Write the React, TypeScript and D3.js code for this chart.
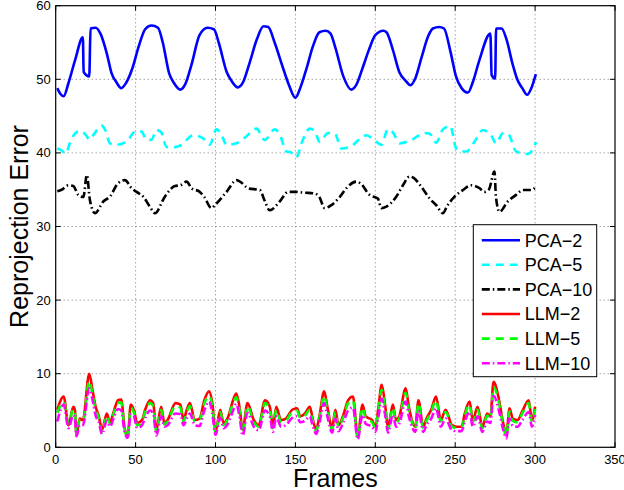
import * as d3 from 'd3';

const W = 624;
const H = 490;
const M = { left: 55.7, right: 9, top: 5.7, bottom: 42.7 };

const xTicks = [0, 50, 100, 150, 200, 250, 300, 350];
const yTicks = [0, 10, 20, 30, 40, 50, 60];

// PCA-2 (blue, solid)
const pca2Frames = [1, 3, 5, 8, 12, 17, 17.5, 21, 21.8, 25, 28, 32, 35, 38, 41, 44, 48, 52, 56, 60, 64, 67, 71, 74, 78, 81, 85, 90, 95, 99, 102, 107, 110, 114, 117, 121, 126, 130, 133, 137, 142, 146, 150, 153, 157, 161, 165, 169, 172, 175, 180, 185, 188, 192, 196, 200, 205, 207, 211, 215, 219, 222, 225, 229, 233, 236, 240, 243, 247, 250.5, 254, 258, 261, 265, 272, 272.8, 275, 275.6, 279, 282, 286, 289, 292, 295, 298, 300.5];
const pca2Values = [48.8, 48.0, 47.7, 49.5, 52.5, 55.7, 51.0, 50.4, 56.9, 57.0, 56.2, 53.5, 50.8, 49.6, 48.8, 49.5, 51.5, 54.5, 56.8, 57.3, 57.0, 55.0, 50.8, 49.5, 48.6, 49.3, 52.0, 56.0, 57.0, 56.8, 55.0, 51.0, 49.8, 48.9, 49.5, 52.0, 55.5, 57.2, 57.1, 55.0, 51.7, 49.2, 47.5, 48.8, 51.5, 54.5, 56.4, 56.6, 56.2, 54.3, 50.4, 48.6, 49.2, 51.5, 54.0, 56.0, 56.6, 56.4, 54.0, 51.0, 49.8, 49.2, 50.1, 53.0, 55.8, 56.9, 57.1, 56.9, 53.8, 50.4, 48.8, 48.2, 49.6, 52.5, 56.2, 50.6, 50.1, 56.9, 56.9, 55.5, 52.0, 49.9, 48.8, 47.9, 49.0, 50.7];

// PCA-5 (cyan, dashed)
const pca5Frames = [1, 4, 6, 10, 15, 19, 21, 23.5, 28.7, 30.8, 34, 38, 44, 50.6, 53.7, 57, 60, 63, 66, 69.4, 73.5, 78, 86, 92, 96.4, 100.6, 103, 107, 113, 119, 125.6, 130.8, 137, 140, 144.4, 147, 150.6, 153.8, 159, 162, 165.2, 170.4, 174.6, 178.8, 184, 194.4, 198.6, 203.8, 207.9, 211, 215.2, 222.5, 230.8, 234, 238.1, 242.3, 246.9, 250.6, 253.8, 257, 262, 267.3, 272.5, 275.6, 279.8, 283, 288.1, 294.4, 296, 300.6];
const pca5Values = [40.6, 40.3, 39.9, 42.0, 43.0, 42.4, 41.8, 42.4, 43.7, 43.2, 41.3, 41.1, 41.5, 43.0, 42.9, 41.75, 41.8, 43.1, 42.8, 40.8, 40.75, 41.0, 42.4, 42.0, 41.1, 43.2, 42.8, 41.1, 41.3, 42.2, 43.3, 41.75, 43.2, 42.6, 40.2, 40.1, 39.4, 41.3, 43.3, 43.0, 41.5, 42.7, 42.65, 40.6, 40.8, 42.4, 41.9, 41.1, 43.2, 42.8, 41.3, 41.75, 42.7, 42.6, 41.4, 43.2, 43.65, 40.6, 40.2, 40.2, 41.5, 43.1, 42.4, 41.3, 42.65, 42.6, 40.2, 39.85, 39.9, 41.5];

// PCA-10 (black, dash-dot)
const pca10Frames = [1, 3.7, 7.9, 11, 14.1, 17.3, 19.5, 21.4, 24.6, 29.8, 33.9, 39.1, 43.3, 47.5, 50.6, 54.8, 58.9, 62.1, 68.3, 74.6, 78, 81.9, 85, 90.2, 93, 97.5, 100, 106.9, 113.1, 116, 120.4, 127.7, 130.8, 133.9, 140.2, 145.4, 150.6, 155, 162, 165, 168.3, 172.5, 177.7, 181.9, 188.1, 191, 196.4, 201.6, 203.8, 206.9, 213.1, 217.3, 221.4, 224, 228.8, 234, 238.1, 242.3, 245, 249.6, 254.8, 260, 265.2, 268.3, 271, 274.6, 275.5, 277.7, 282.9, 288.1, 292.3, 297.5, 300.6];
const pca10Values = [34.8, 35.0, 35.6, 35.5, 34.3, 34.0, 37.0, 33.6, 31.8, 33.4, 34.05, 35.9, 36.3, 35.2, 34.7, 34.05, 32.7, 31.8, 34.05, 35.5, 35.6, 36.1, 35.2, 34.7, 34.0, 32.5, 33.0, 34.7, 36.3, 36.0, 35.2, 34.95, 33.5, 32.2, 33.4, 34.7, 34.7, 34.6, 34.5, 34.0, 32.5, 32.9, 34.0, 35.2, 36.1, 35.8, 34.3, 33.8, 32.5, 32.7, 34.05, 35.6, 36.8, 36.6, 35.4, 33.8, 32.9, 31.8, 32.8, 34.05, 34.95, 35.6, 35.2, 34.7, 35.0, 37.45, 34.0, 32.0, 33.4, 34.3, 34.95, 34.95, 35.4];

// LLM series share the same frames
const llmFrames = [1, 5, 8, 11, 12, 13, 15, 17, 21, 23, 25, 27, 29, 32, 34, 36, 39, 41, 43, 45, 47, 49, 51, 54, 56, 59, 61, 63, 66, 68, 70, 75, 78, 80, 82, 84, 87, 90, 93, 96, 98, 100, 103, 105, 108, 111, 113, 115, 117, 120, 124, 127, 131, 134, 136, 138, 141, 144, 148, 151, 153, 156, 159, 161, 163, 165, 168, 170, 173, 175, 177, 180, 183, 186, 189, 192, 194, 198, 200, 202, 204, 206, 208, 211, 213, 215, 219, 221, 225, 227, 230, 232, 235, 238, 241, 244, 248, 251, 254, 256, 259, 261, 264, 267, 270, 272, 274, 277, 280, 282, 284, 286, 289, 292, 296, 298, 300];
const llm2Values = [5.1, 6.9, 3.0, 5.5, 5.1, 1.7, 3.9, 3.7, 10.0, 7.8, 5.5, 4.2, 2.4, 4.6, 3.3, 4.6, 6.4, 6.5, 2.8, 1.5, 5.8, 5.0, 3.3, 3.7, 5.1, 6.4, 6.0, 2.4, 5.5, 3.3, 3.7, 6.0, 5.8, 3.7, 5.1, 6.0, 3.7, 3.9, 6.4, 7.6, 6.0, 2.1, 5.1, 3.3, 4.2, 6.4, 7.3, 5.5, 2.4, 6.0, 3.7, 3.0, 6.4, 5.5, 2.8, 5.5, 3.7, 3.9, 5.1, 5.3, 4.2, 4.6, 5.5, 3.7, 2.4, 4.2, 7.6, 5.5, 2.6, 5.1, 3.0, 4.4, 6.4, 6.9, 1.5, 5.8, 4.2, 3.7, 2.8, 5.5, 8.5, 6.0, 2.8, 5.8, 3.7, 4.2, 8.0, 5.5, 2.8, 6.4, 2.8, 3.9, 5.1, 6.9, 3.7, 5.1, 3.0, 2.8, 2.8, 4.6, 6.2, 3.7, 5.5, 2.8, 4.6, 4.2, 8.9, 6.9, 3.3, 1.7, 5.3, 3.9, 3.7, 4.9, 6.4, 3.7, 5.5];
const llm5Values = [4.7, 6.2, 3.2, 5.2, 4.8, 1.8, 3.7, 3.5, 9.0, 7.2, 5.1, 4.0, 2.0, 4.3, 3.2, 4.4, 6.0, 6.1, 2.6, 1.4, 5.4, 4.7, 3.0, 3.5, 4.8, 6.0, 5.6, 2.0, 5.1, 3.1, 3.5, 5.6, 5.4, 3.5, 4.8, 5.6, 3.5, 3.6, 6.0, 7.0, 5.6, 2.0, 4.8, 3.0, 4.0, 6.0, 6.8, 5.1, 2.0, 5.6, 3.4, 2.8, 6.0, 5.1, 2.6, 5.1, 3.4, 3.6, 4.8, 5.0, 4.0, 4.3, 5.1, 3.4, 2.2, 4.0, 7.0, 5.1, 2.4, 4.8, 2.8, 4.1, 6.0, 6.4, 1.3, 5.4, 3.9, 3.4, 2.6, 5.1, 7.8, 5.6, 2.5, 5.4, 3.4, 3.9, 7.4, 5.1, 2.5, 6.0, 2.6, 3.6, 4.8, 6.4, 3.5, 4.8, 2.8, 2.6, 2.6, 4.3, 5.8, 3.4, 5.1, 2.6, 4.3, 3.9, 8.2, 6.4, 3.0, 1.5, 4.9, 3.6, 3.4, 4.6, 6.0, 3.4, 5.2];
const llm10Values = [3.5, 5.8, 2.6, 4.4, 4.0, 1.5, 3.0, 3.0, 8.0, 6.5, 4.3, 3.4, 1.8, 3.6, 2.8, 3.8, 5.2, 5.0, 2.2, 1.3, 4.5, 4.2, 2.6, 3.0, 4.0, 5.0, 4.6, 1.6, 4.2, 2.8, 3.0, 4.6, 4.5, 3.0, 3.9, 4.6, 3.0, 2.9, 5.0, 6.2, 4.6, 1.7, 4.0, 2.6, 3.3, 5.0, 5.9, 4.2, 1.6, 4.7, 2.8, 2.3, 5.0, 4.2, 2.1, 4.2, 2.8, 3.0, 4.0, 4.2, 3.4, 3.6, 4.2, 2.8, 1.8, 3.3, 6.0, 4.2, 2.0, 3.9, 2.2, 3.4, 5.0, 5.4, 1.1, 4.4, 3.2, 2.8, 2.1, 4.2, 6.6, 4.6, 2.0, 4.4, 2.8, 3.2, 6.2, 4.2, 2.1, 5.0, 2.1, 3.0, 3.9, 5.3, 2.8, 3.9, 2.3, 2.2, 2.2, 3.5, 4.8, 2.8, 4.2, 2.1, 3.5, 3.3, 7.0, 5.3, 2.4, 1.2, 3.9, 2.9, 2.8, 3.7, 4.8, 2.8, 4.4];

const series = [
  { name: 'PCA\u22122', frames: pca2Frames, values: pca2Values, color: '#0000ff', dash: '' },
  { name: 'PCA\u22125', frames: pca5Frames, values: pca5Values, color: '#00ffff', dash: '8,6' },
  { name: 'PCA\u221210', frames: pca10Frames, values: pca10Values, color: '#000000', dash: '8,3,1.5,3' },
  { name: 'LLM\u22122', frames: llmFrames, values: llm2Values, color: '#ff0000', dash: '' },
  { name: 'LLM\u22125', frames: llmFrames, values: llm5Values, color: '#00ff00', dash: '8,6' },
  { name: 'LLM\u221210', frames: llmFrames, values: llm10Values, color: '#ff00ff', dash: '8,3,1.5,3' }
];

const FONT = '"Liberation Sans", Arial, Helvetica, sans-serif';

export default function App() {
  const x = d3.scaleLinear().domain([0, 350]).range([M.left, W - M.right]);
  const y = d3.scaleLinear().domain([0, 60]).range([H - M.bottom, M.top]);
  const [x0, x1] = x.range();
  const [y0, y1] = y.range();

  const line = d3.line<number>().curve(d3.curveMonotoneX);

  const paths = series.map((s) =>
    line.x((_, i) => x(s.frames[i])).y((v) => y(v))(s.values) || ''
  );

  const legendX = 473.3;
  const legendY = 224.7;
  const legendW = 123.4;
  const legendH = 152;

  return (
    <svg width={W} height={H} style={{ position: 'absolute', left: 0, top: 0, background: '#fff' }}>
      <rect x={0} y={0} width={W} height={H} fill="#fff" />
      {/* grid */}
      {xTicks.slice(1, -1).map((t) => (
        <line key={`gx${t}`} x1={x(t)} x2={x(t)} y1={y0} y2={y1} stroke="#555" strokeWidth={0.8} strokeDasharray="1,3" />
      ))}
      {yTicks.slice(1, -1).map((t) => (
        <line key={`gy${t}`} x1={x0} x2={x1} y1={y(t)} y2={y(t)} stroke="#555" strokeWidth={0.8} strokeDasharray="1,3" />
      ))}
      {/* data */}
      {series.map((s, i) => (
        <path
          key={s.name}
          d={paths[i]}
          fill="none"
          stroke={s.color}
          strokeWidth={2.6}
          strokeDasharray={s.dash || undefined}
          strokeLinejoin="round"
        />
      ))}
      {/* box and ticks */}
      <rect x={x0} y={y1} width={x1 - x0} height={y0 - y1} fill="none" stroke="#000" strokeWidth={1.2} />
      {xTicks.map((t) => (
        <g key={`tx${t}`}>
          <line x1={x(t)} x2={x(t)} y1={y0} y2={y0 - 5} stroke="#000" />
          <line x1={x(t)} x2={x(t)} y1={y1} y2={y1 + 5} stroke="#000" />
          <text x={x(t)} y={y0 + 17} textAnchor="middle" fontFamily={FONT} fontSize={13} fill="#000">
            {t}
          </text>
        </g>
      ))}
      {yTicks.map((t) => (
        <g key={`ty${t}`}>
          <line x1={x0} x2={x0 + 5} y1={y(t)} y2={y(t)} stroke="#000" />
          <line x1={x1} x2={x1 - 5} y1={y(t)} y2={y(t)} stroke="#000" />
          <text x={x0 - 5} y={y(t) + 4.5} textAnchor="end" fontFamily={FONT} fontSize={13} fill="#000">
            {t}
          </text>
        </g>
      ))}
      {/* axis labels */}
      <text x={(x0 + x1) / 2} y={487} textAnchor="middle" fontFamily={FONT} fontSize={25} fill="#000">
        Frames
      </text>
      <text
        transform={`translate(28,${(y0 + y1) / 2}) rotate(-90)`}
        textAnchor="middle"
        fontFamily={FONT}
        fontSize={25}
        fill="#000"
      >
        Reprojection Error
      </text>
      {/* legend */}
      <rect x={legendX} y={legendY} width={legendW} height={legendH} fill="#fff" stroke="#000" strokeWidth={1} />
      {series.map((s, i) => {
        const ly = legendY + 15.5 + i * 24.6;
        return (
          <g key={`lg${s.name}`}>
            <line
              x1={legendX + 8.5}
              x2={legendX + 46.7}
              y1={ly}
              y2={ly}
              stroke={s.color}
              strokeWidth={2.6}
              strokeDasharray={s.dash || undefined}
            />
            <text x={legendX + 51.5} y={ly + 6.3} fontFamily={FONT} fontSize={18} fill="#000">
              {s.name}
            </text>
          </g>
        );
      })}
    </svg>
  );
}
